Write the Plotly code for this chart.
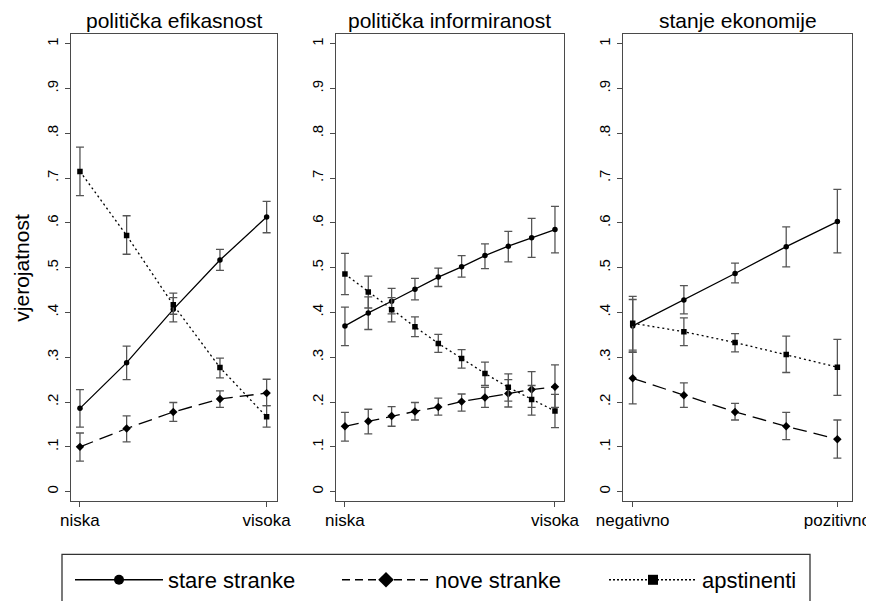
import numpy as np
import plotly.graph_objects as go

# ---------------- data ----------------
panel_titles = ["politička efikasnost", "politička informiranost", "stanje ekonomije"]
x_ticktext = [["niska", "visoka"], ["niska", "visoka"], ["negativno", "pozitivno"]]
y_tickvals = [0, 0.1, 0.2, 0.3, 0.4, 0.5, 0.6, 0.7, 0.8, 0.9, 1.0]
y_ticktext = ["0", ".1", ".2", ".3", ".4", ".5", ".6", ".7", ".8", ".9", "1"]
series_names = ["stare stranke", "nove stranke", "apstinenti"]
y_title = "vjerojatnost"

# panel 1: politička efikasnost (5 levels)
p1_x = [0, 0.25, 0.5, 0.75, 1]
p1_stare = [0.186, 0.288, 0.407, 0.517, 0.613]
p1_stare_lo = [0.144, 0.250, 0.379, 0.494, 0.578]
p1_stare_hi = [0.228, 0.325, 0.433, 0.541, 0.648]
p1_nove = [0.100, 0.141, 0.178, 0.207, 0.220]
p1_nove_lo = [0.068, 0.111, 0.157, 0.188, 0.192]
p1_nove_hi = [0.131, 0.169, 0.199, 0.225, 0.251]
p1_apst = [0.715, 0.572, 0.417, 0.277, 0.167]
p1_apst_lo = [0.661, 0.530, 0.396, 0.254, 0.144]
p1_apst_hi = [0.769, 0.616, 0.443, 0.298, 0.192]

# panel 2: politička informiranost (10 levels)
p2_x = [0, 1/9, 2/9, 3/9, 4/9, 5/9, 6/9, 7/9, 8/9, 1]
p2_stare = [0.370, 0.399, 0.425, 0.452, 0.479, 0.502, 0.527, 0.548, 0.567, 0.585]
p2_stare_lo = [0.326, 0.362, 0.397, 0.428, 0.458, 0.479, 0.498, 0.513, 0.523, 0.533]
p2_stare_hi = [0.412, 0.435, 0.454, 0.476, 0.499, 0.527, 0.553, 0.581, 0.610, 0.637]
p2_nove = [0.146, 0.157, 0.169, 0.179, 0.189, 0.201, 0.210, 0.219, 0.228, 0.234]
p2_nove_lo = [0.113, 0.129, 0.146, 0.160, 0.171, 0.180, 0.188, 0.189, 0.188, 0.188]
p2_nove_hi = [0.177, 0.184, 0.190, 0.199, 0.209, 0.218, 0.233, 0.250, 0.268, 0.283]
p2_apst = [0.486, 0.446, 0.406, 0.368, 0.331, 0.297, 0.264, 0.233, 0.206, 0.180]
p2_apst_lo = [0.440, 0.410, 0.379, 0.346, 0.311, 0.276, 0.237, 0.202, 0.171, 0.143]
p2_apst_hi = [0.532, 0.481, 0.433, 0.390, 0.351, 0.317, 0.289, 0.263, 0.237, 0.217]

# panel 3: stanje ekonomije (5 levels)
p3_x = [0, 0.25, 0.5, 0.75, 1]
p3_stare = [0.370, 0.428, 0.487, 0.547, 0.603]
p3_stare_lo = [0.311, 0.397, 0.466, 0.502, 0.533]
p3_stare_hi = [0.429, 0.460, 0.510, 0.591, 0.675]
p3_nove = [0.253, 0.215, 0.178, 0.146, 0.117]
p3_nove_lo = [0.196, 0.188, 0.160, 0.116, 0.075]
p3_nove_hi = [0.312, 0.243, 0.197, 0.177, 0.160]
p3_apst = [0.376, 0.357, 0.333, 0.306, 0.278]
p3_apst_lo = [0.316, 0.326, 0.312, 0.266, 0.215]
p3_apst_hi = [0.436, 0.388, 0.353, 0.347, 0.340]

panels = [
    (p1_x, [(p1_stare, p1_stare_lo, p1_stare_hi), (p1_nove, p1_nove_lo, p1_nove_hi), (p1_apst, p1_apst_lo, p1_apst_hi)]),
    (p2_x, [(p2_stare, p2_stare_lo, p2_stare_hi), (p2_nove, p2_nove_lo, p2_nove_hi), (p2_apst, p2_apst_lo, p2_apst_hi)]),
    (p3_x, [(p3_stare, p3_stare_lo, p3_stare_hi), (p3_nove, p3_nove_lo, p3_nove_hi), (p3_apst, p3_apst_lo, p3_apst_hi)]),
]

# ---------------- style / layout ----------------
# page body has an 8px default margin, so the figure is 8px smaller and
# screen positions are converted to figure positions.
OFF = 8
W, H = 874 - OFF, 601 - OFF


def fx(s):
    return (s - OFF) / W


def fy(s):
    return (H - (s - OFF)) / H


FONT = "Liberation Sans, Arial, sans-serif"
dashes = ["solid", "14px,7px", "2px,3px"]
leg_dashes = ["solid", "8px,5px", "2px,2px"]
symbols = ["circle", "diamond", "square"]
msize = [5.5, 6.5, 5.5]
leg_msize = [10, 12, 10]
frame_col = "#4a4a4a"
err_col = "#555555"

x_px = [(71.0, 276.7), (335.7, 564.0), (623.3, 851.7)]
x_ranges = [[-0.048, 1.054], [-0.044, 1.043], [-0.046, 1.070]]
y_top, y_bot = 34.4, 506.2
y_range = [-0.0212, 1.0214]

fig = go.Figure()

for i, (xs, series) in enumerate(panels):
    xa = "x" if i == 0 else f"x{i+1}"
    ya = "y" if i == 0 else f"y{i+1}"
    for j, (v, lo, hi) in enumerate(series):
        v = np.array(v); lo = np.array(lo); hi = np.array(hi)
        fig.add_trace(go.Scatter(
            x=xs, y=v, xaxis=xa, yaxis=ya, mode="lines+markers",
            line=dict(color="black", width=1.3, dash=dashes[j]),
            marker=dict(symbol=symbols[j], size=msize[j], color="black"),
            error_y=dict(type="data", symmetric=False, array=hi - v, arrayminus=v - lo,
                         color=err_col, thickness=1.3, width=4),
            showlegend=False, name=series_names[j]))

# legend entries
for j in range(3):
    fig.add_trace(go.Scatter(
        x=[None], y=[None], mode="lines+markers", name=series_names[j],
        line=dict(color="black", width=1.5, dash=leg_dashes[j]),
        marker=dict(symbol=symbols[j], size=leg_msize[j], color="black"),
        showlegend=True))

layout = dict(
    width=W, height=H,
    margin=dict(l=0, r=0, t=0, b=0),
    paper_bgcolor="white", plot_bgcolor="white",
    font=dict(family=FONT, color="black"),
    showlegend=True,
    legend=dict(orientation="h", x=fx(70), xanchor="left", y=fy(565), yanchor="top",
                borderwidth=0, font=dict(size=22, family=FONT),
                itemwidth=88, entrywidth=164, entrywidthmode="pixels",
                bgcolor="rgba(0,0,0,0)", itemclick=False),
    annotations=[],
    shapes=[dict(type="rect", xref="paper", yref="paper",
                 x0=fx(62), x1=fx(810), y0=fy(640), y1=fy(560),
                 line=dict(color="#333333", width=1.3), fillcolor="rgba(0,0,0,0)", layer="below")],
)

for i in range(3):
    sfx = "" if i == 0 else str(i + 1)
    x0, x1 = x_px[i]
    layout["xaxis" + sfx] = dict(
        domain=[fx(x0), fx(x1)], range=x_ranges[i], anchor="y" + sfx,
        tickvals=[0, 1], ticktext=x_ticktext[i], ticks="outside", ticklen=5,
        tickcolor=frame_col, tickwidth=1.2, showline=True, mirror=True,
        linecolor=frame_col, linewidth=1.3, showgrid=False, zeroline=False,
        tickfont=dict(size=17, family=FONT, color="black"), automargin=False,
        ticklabeloverflow="allow", ticklabelstandoff=-2, fixedrange=True)
    layout["yaxis" + sfx] = dict(
        domain=[fy(y_bot), fy(y_top)], range=y_range, anchor="x" + sfx,
        tickvals=y_tickvals, ticktext=y_ticktext, ticks="outside", ticklen=5,
        tickcolor=frame_col, tickwidth=1.2, showline=True, mirror=True,
        linecolor=frame_col, linewidth=1.3, showgrid=False, zeroline=False,
        tickangle=-90, tickfont=dict(size=15, family=FONT, color="black"),
        ticklabelstandoff=1, automargin=False, fixedrange=True)
    layout["annotations"].append(dict(
        text=panel_titles[i], xref="paper", yref="paper",
        x=fx((x0 + x1) / 2), y=fy(21), xanchor="center", yanchor="middle",
        showarrow=False, font=dict(size=21, family=FONT, color="black")))

layout["annotations"].append(dict(
    text=y_title, xref="paper", yref="paper", x=fx(22), y=fy((y_top + y_bot) / 2),
    xanchor="center", yanchor="middle", textangle=-90, showarrow=False,
    font=dict(size=21, family=FONT, color="black")))

fig.update_layout(**layout)
fig.write_html("out.html")
